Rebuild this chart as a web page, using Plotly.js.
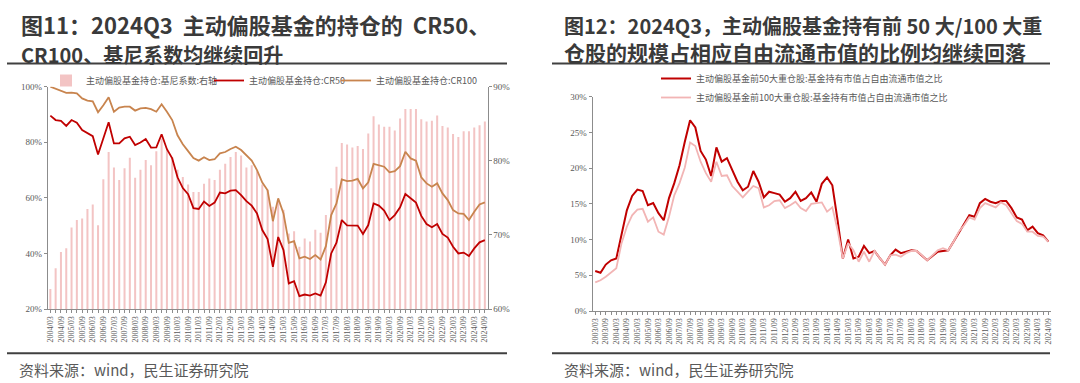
<!DOCTYPE html>
<html><head><meta charset="utf-8">
<script src="https://cdn.plot.ly/plotly-3.0.1.min.js"></script>
<style>html,body{margin:0;padding:0;background:#fff}#chart{width:1080px;height:383px}</style>
</head><body><div id="chart"></div>
<script>
// ---------- Chart 1 data (quarterly, 2004/03 - 2024/09) ----------
const cr50 = [89.6,88.0,87.7,85.9,88.0,87.0,84.4,83.2,82.2,75.6,81.4,87.2,79.6,79.6,81.4,82.0,79.0,79.9,81.2,78.1,78.2,82.9,77.5,74.2,67.4,63.5,61.3,56.3,56.0,58.7,57.1,58.3,61.9,61.6,62.6,62.8,61.0,58.8,57.2,54.4,48.4,45.2,35.2,45.9,41.2,29.2,30.0,24.6,25.2,24.8,25.6,24.8,29.6,40.0,43.9,52.0,50.1,50.0,50.0,47.0,50.2,58.0,57.2,55.4,52.0,53.8,56.6,61.4,59.8,58.3,53.5,50.6,49.4,50.6,47.0,45.7,42.4,40.0,40.3,39.1,41.8,44.0,44.8];
const cr100 = [100.0,99.3,98.7,97.8,97.9,97.6,95.8,95.0,94.7,90.8,93.3,96.2,91.0,92.5,92.8,92.8,91.4,92.2,92.4,91.9,91.0,93.7,91.0,88.0,82.5,79.3,76.8,74.3,73.4,74.6,73.6,73.9,76.0,76.5,77.6,78.4,77.2,75.3,73.4,70.0,65.5,62.7,51.6,59.8,54.4,43.8,44.4,38.2,38.8,38.0,39.4,37.8,42.6,53.8,58.0,66.6,66.0,66.2,66.8,63.4,65.6,72.2,71.8,71.2,69.2,69.6,71.4,76.6,74.2,73.4,67.4,65.2,64.0,65.2,61.6,59.2,55.6,54.4,54.2,52.0,55.0,57.6,58.4];
const gini = [62.7,65.5,67.7,68.2,71.0,72.0,72.2,73.5,74.1,71.3,77.5,81.2,79.1,77.4,79.0,80.4,77.7,78.8,80.1,79.4,81.3,83.0,81.5,80.5,78.8,77.8,76.8,75.8,75.8,76.9,77.6,77.4,78.8,79.6,80.5,81.2,80.7,79.1,79.4,78.6,76.8,76.1,73.8,74.5,73.4,70.2,70.5,68.4,69.5,69.1,70.7,70.3,72.7,76.3,79.2,82.4,82.2,81.8,82.0,81.6,83.7,86.0,84.9,84.6,84.6,84.1,85.7,87.0,87.0,87.0,85.6,85.3,85.4,86.1,84.7,84.5,83.6,83.2,84.0,84.0,84.5,84.8,85.3];

// ---------- Chart 2 data (quarterly, 2003/03 - 2024/09) ----------
const top50 = [5.6,5.35,6.5,7.1,7.35,10.9,14.1,16.1,17.0,16.8,14.8,15.1,13.7,12.7,15.8,17.9,20.4,23.7,26.7,25.7,22.4,21.2,18.9,22.9,20.9,21.4,19.7,18.1,16.9,17.4,19.6,18.1,15.9,16.7,16.5,16.3,15.3,15.8,16.7,15.4,15.8,16.6,15.3,17.8,18.7,17.6,12.7,7.35,10.0,7.35,7.6,9.1,8.1,8.4,7.4,6.5,7.8,8.6,8.1,8.3,8.5,8.4,7.8,7.1,7.7,8.3,8.4,8.5,9.7,10.9,12.3,13.4,13.2,15.1,15.7,15.3,15.1,15.4,15.4,14.4,13.1,12.8,11.3,11.8,10.9,10.6,9.7];
const top100 = [4.0,4.3,4.8,5.35,6.0,9.5,11.8,13.4,14.2,14.3,12.5,13.1,11.1,10.7,13.2,16.2,17.9,20.1,23.6,23.1,20.9,19.3,18.1,20.9,18.9,19.0,17.5,16.7,15.9,16.7,17.5,17.2,14.5,14.8,15.4,15.5,14.4,14.8,15.3,14.4,14.0,15.0,15.1,15.2,13.9,14.5,11.3,7.35,9.5,8.5,6.9,8.3,6.9,8.4,7.4,6.5,7.8,7.9,7.6,8.1,8.4,8.4,7.8,7.1,7.8,8.5,8.8,8.5,9.7,11.1,12.0,13.1,12.8,14.4,15.1,14.8,14.5,15.2,14.8,13.7,12.6,12.2,11.1,11.1,10.5,10.4,9.7];

// ---------- Category / tick labels ----------
const months = ['03','06','09','12'];
function quarterLabels(startYear, count){
  const out = [];
  for (let i = 0; i < count; i++) out.push((startYear + Math.floor(i/4)) + '/' + months[i%4]);
  return out;
}
const cats1 = quarterLabels(2004, cr50.length);
const cats2 = quarterLabels(2003, top50.length);
const tickText = c => c.map(s => (s.endsWith('/03') || s.endsWith('/09')) ? s : '');

// ---------- Text ----------
const title1 = '<b>图11：2024Q3  主动偏股基金的持仓的  CR50、</b><br><b><span style="font-size:20px">CR100、基尼系数均继续回升</span></b>';
const title2 = '<b><span style="font-size:20px">图12：2024Q3，主动偏股基金持有前 50 大/100 大重</span></b><br><b>仓股的规模占相应自由流通市值的比例均继续回落</b>';
const sourceText = '资料来源：wind，民生证券研究院';
const names1 = ['主动偏股基金持仓:基尼系数:右轴','主动偏股基金持仓:CR50','主动偏股基金持仓:CR100'];
const names2 = ['主动偏股基金前50大重仓股:基金持有市值占自由流通市值之比','主动偏股基金前100大重仓股:基金持有市值占自由流通市值之比'];

const W = 1080, H = 383;
const px = x => x / W;
const py = y => 1 - y / H;

const serif = 'Liberation Serif, DejaVu Serif, serif';
const cjk = 'Noto Sans CJK SC, Noto Sans, sans-serif';
const axisCol = '#8c8c8c';
const tickCol = '#595959';

const traces = [
  {type:'bar', x:cats1, y:gini, name:names1[0], xaxis:'x', yaxis:'y', width:0.38,
   marker:{color:'#f3c4c4'}, legend:'legend'},
  {type:'scatter', mode:'lines', x:cats1, y:cr50, name:names1[1], xaxis:'x', yaxis:'y2',
   line:{color:'#c00000', width:1.8}, legend:'legend3'},
  {type:'scatter', mode:'lines', x:cats1, y:cr100, name:names1[2], xaxis:'x', yaxis:'y2',
   line:{color:'#c8844e', width:1.8}, legend:'legend4'},
  {type:'scatter', mode:'lines', x:cats2, y:top50, name:names2[0], xaxis:'x2', yaxis:'y3',
   line:{color:'#c00000', width:2}, legend:'legend2'},
  {type:'scatter', mode:'lines', x:cats2, y:top100, name:names2[1], xaxis:'x2', yaxis:'y3',
   line:{color:'#f2b5b5', width:1.8}, legend:'legend2'}
];

const xCommon = {
  type:'category', tickmode:'array', tickangle:-90, ticks:'outside', ticklen:3,
  tickcolor:axisCol, showline:true, linecolor:axisCol, linewidth:1, showgrid:false, zeroline:false,
  tickfont:{family:serif, size:8, color:tickCol}, fixedrange:true
};
const yCommon = {
  showline:true, linecolor:axisCol, linewidth:1, showgrid:false, zeroline:false,
  ticks:'outside', ticklen:3, tickcolor:axisCol, ticksuffix:'%',
  tickfont:{family:serif, size:9, color:tickCol}, fixedrange:true
};
const legCommon = {orientation:'h', xanchor:'left', yanchor:'top', bgcolor:'rgba(0,0,0,0)',
  font:{family:cjk, size:9, color:tickCol}, itemwidth:30, tracegroupgap:0};

const layout = {
  width:W, height:H, margin:{l:0,r:0,t:0,b:0}, paper_bgcolor:'#fff', plot_bgcolor:'rgba(0,0,0,0)',
  barmode:'overlay', showlegend:true,
  xaxis: Object.assign({}, xCommon, {domain:[px(47.7), px(487.5)], anchor:'y', range:[-0.5, cats1.length-0.5],
          tickvals:cats1, ticktext:tickText(cats1)}),
  yaxis: Object.assign({}, yCommon, {domain:[py(309), py(86.7)], anchor:'x', side:'right', range:[60,90], dtick:10, tick0:60}),
  yaxis2: Object.assign({}, yCommon, {overlaying:'y', anchor:'x', side:'left', range:[20,100], dtick:20, tick0:20}),
  xaxis2: Object.assign({}, xCommon, {domain:[px(592.6), px(1051)], anchor:'y3', range:[-0.5, cats2.length-0.5],
          tickvals:cats2, ticktext:tickText(cats2)}),
  yaxis3: Object.assign({}, yCommon, {domain:[py(311), py(96.7)], anchor:'x2', side:'left', range:[0,30], dtick:5, tick0:0}),
  legend:  Object.assign({}, legCommon, {x:px(46), y:py(66)}),
  legend3: Object.assign({}, legCommon, {x:px(209), y:py(66)}),
  legend4: Object.assign({}, legCommon, {x:px(336), y:py(66)}),
  legend2: Object.assign({}, legCommon, {orientation:'v', x:px(656), y:py(64)}),
  shapes:[
    {type:'line', xref:'paper', yref:'paper', x0:px(7), x1:px(507), y0:py(63.5), y1:py(63.5), line:{color:'#404040', width:2}},
    {type:'line', xref:'paper', yref:'paper', x0:px(552), x1:px(1050), y0:py(63.5), y1:py(63.5), line:{color:'#404040', width:2}},
    {type:'line', xref:'paper', yref:'paper', x0:px(7), x1:px(507), y0:py(353.3), y1:py(353.3), line:{color:'#404040', width:2}},
    {type:'line', xref:'paper', yref:'paper', x0:px(552), x1:px(1050), y0:py(353.3), y1:py(353.3), line:{color:'#404040', width:2}}
  ],
  annotations:[
    {text:title1, xref:'paper', yref:'paper', x:px(19), y:py(38.5), xanchor:'left', yanchor:'middle', align:'left', showarrow:false,
     font:{family:cjk, size:22, color:'#3a3a3a'}},
    {text:title2, xref:'paper', yref:'paper', x:px(562), y:py(39), xanchor:'left', yanchor:'middle', align:'left', showarrow:false,
     font:{family:cjk, size:21, color:'#3a3a3a'}},
    {text:sourceText, xref:'paper', yref:'paper', x:px(17), y:py(369), xanchor:'left', yanchor:'middle', showarrow:false,
     font:{family:cjk, size:15, color:'#595959'}},
    {text:sourceText, xref:'paper', yref:'paper', x:px(562), y:py(369), xanchor:'left', yanchor:'middle', showarrow:false,
     font:{family:cjk, size:15, color:'#595959'}}
  ]
};

Plotly.newPlot('chart', traces, layout, {displayModeBar:false, staticPlot:true});
</script>
</body></html>
